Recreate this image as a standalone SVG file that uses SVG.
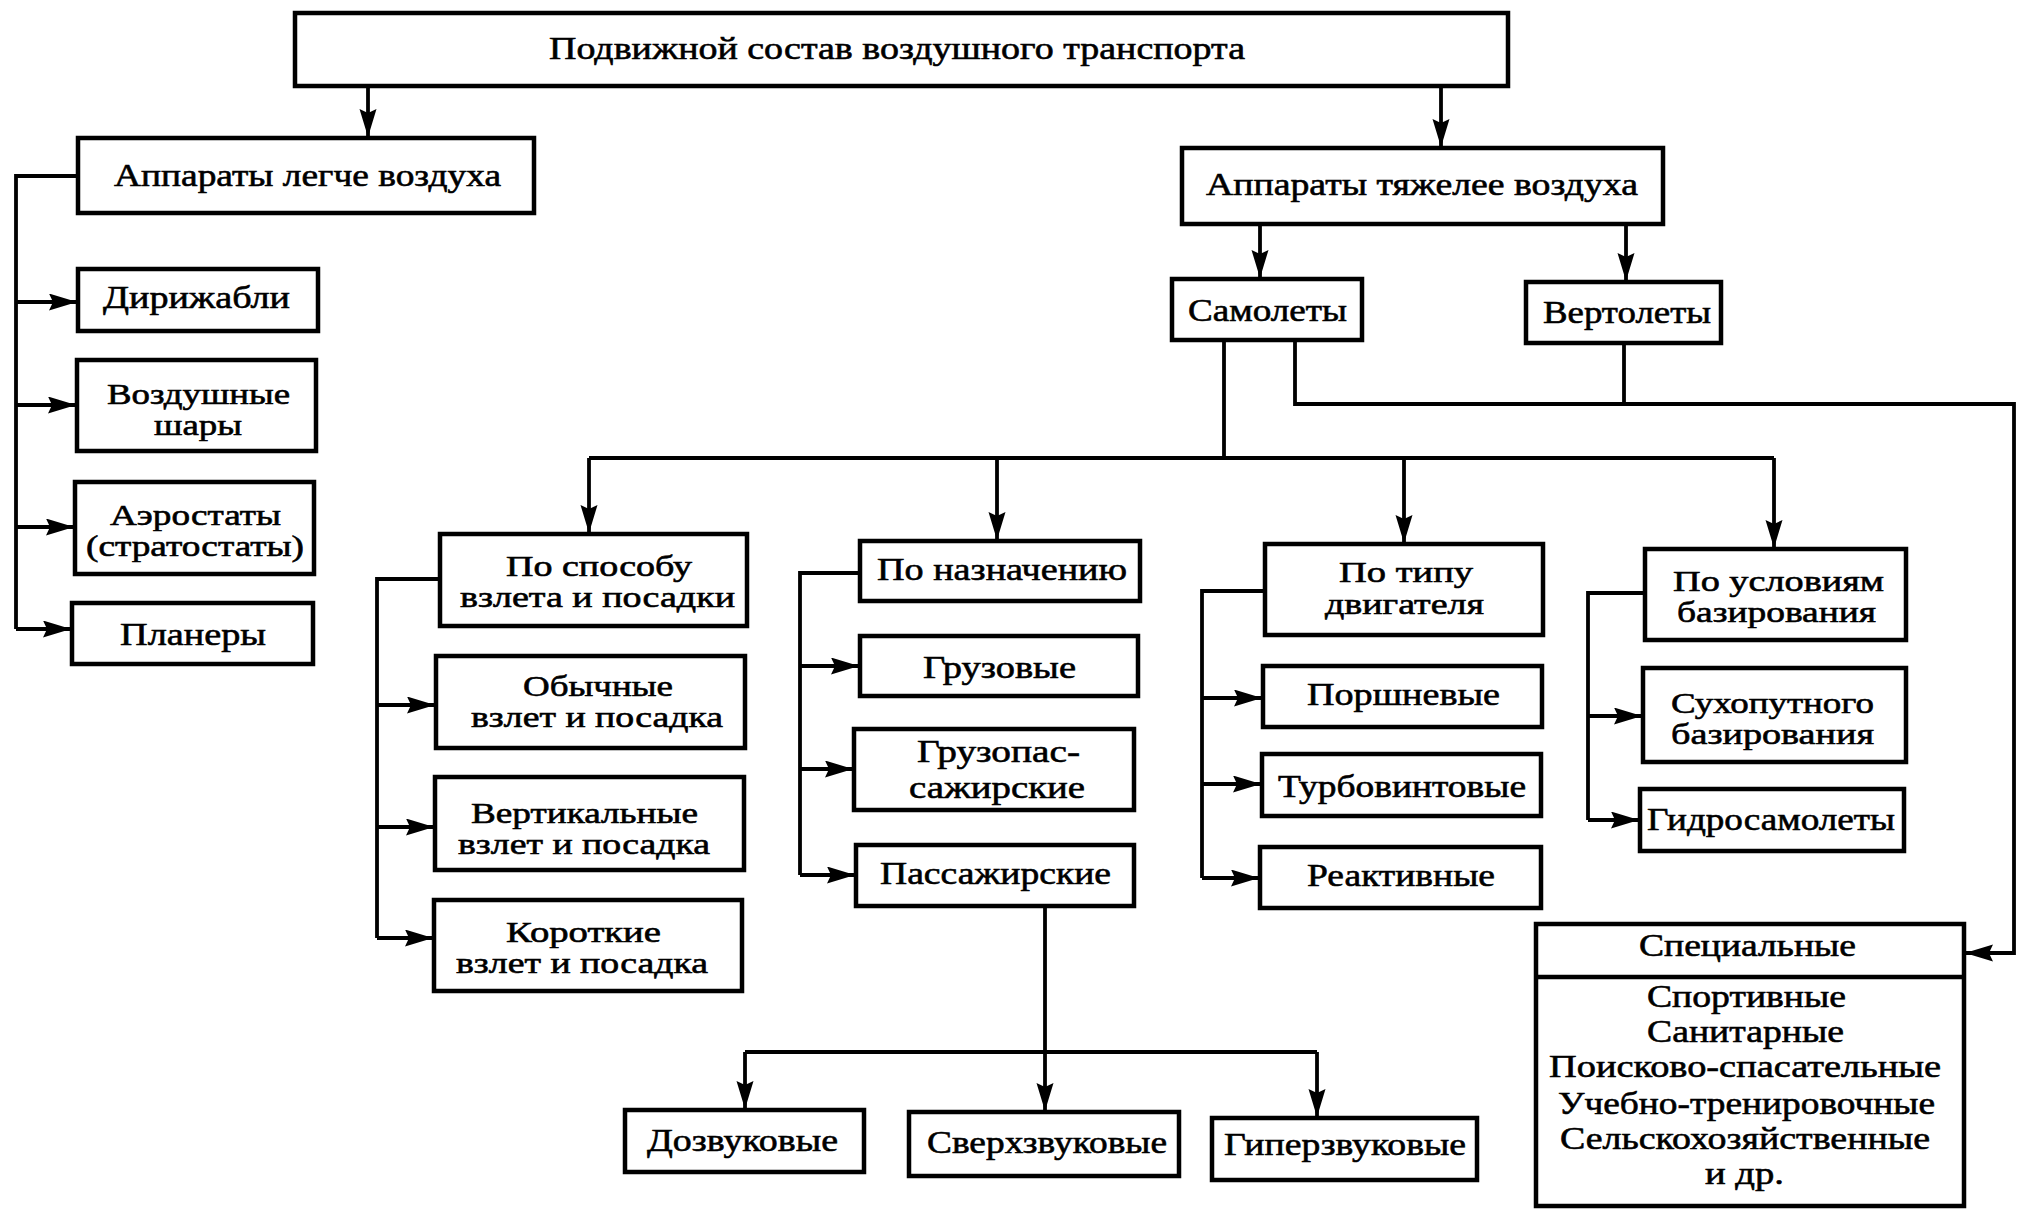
<svg xmlns="http://www.w3.org/2000/svg" width="2036" height="1221" viewBox="0 0 2036 1221">
<style>
.b{fill:#fff;stroke:#000;stroke-width:4.5}
.c{fill:none;stroke:#000;stroke-width:3.8}
text{font-family:"Liberation Serif","Times New Roman",serif;font-size:32px;fill:#000;stroke:#000;stroke-width:0.6}
text.s{font-size:30px}
</style>
<defs>
<marker id="a" markerUnits="userSpaceOnUse" markerWidth="30" markerHeight="18" refX="27" refY="8.5" orient="auto">
<path d="M0,0 L28,8.5 L0,17 L4,8.5 z" fill="#000"/>
</marker>
</defs>
<rect width="2036" height="1221" fill="#fff"/>
<g id="connectors">
<path class="c" d="M368,86 V136" marker-end="url(#a)"/>
<path class="c" d="M1441,87 V146" marker-end="url(#a)"/>
<path class="c" d="M78,176 H16 V629"/>
<path class="c" d="M16,302 H76" marker-end="url(#a)"/>
<path class="c" d="M16,405 H75" marker-end="url(#a)"/>
<path class="c" d="M16,527 H73" marker-end="url(#a)"/>
<path class="c" d="M16,629 H70" marker-end="url(#a)"/>
<path class="c" d="M1260,224 V277" marker-end="url(#a)"/>
<path class="c" d="M1626,224 V280" marker-end="url(#a)"/>
<path class="c" d="M1224,340 V458 M589,458 H1774"/>
<path class="c" d="M589,458 V532" marker-end="url(#a)"/>
<path class="c" d="M997,458 V539" marker-end="url(#a)"/>
<path class="c" d="M1404,458 V542" marker-end="url(#a)"/>
<path class="c" d="M1774,458 V547" marker-end="url(#a)"/>
<path class="c" d="M1295,340 V404 H2014 V953 H1966" marker-end="url(#a)"/>
<path class="c" d="M1624,343 V404"/>
<path class="c" d="M440,579 H377 V938"/>
<path class="c" d="M377,705 H434" marker-end="url(#a)"/>
<path class="c" d="M377,827 H433" marker-end="url(#a)"/>
<path class="c" d="M377,938 H432" marker-end="url(#a)"/>
<path class="c" d="M860,573 H800 V875"/>
<path class="c" d="M800,666 H858" marker-end="url(#a)"/>
<path class="c" d="M800,769 H852" marker-end="url(#a)"/>
<path class="c" d="M800,875 H854" marker-end="url(#a)"/>
<path class="c" d="M1265,591 H1202 V878"/>
<path class="c" d="M1202,698 H1261" marker-end="url(#a)"/>
<path class="c" d="M1202,784 H1260" marker-end="url(#a)"/>
<path class="c" d="M1202,878 H1258" marker-end="url(#a)"/>
<path class="c" d="M1645,593 H1588 V820"/>
<path class="c" d="M1588,716 H1641" marker-end="url(#a)"/>
<path class="c" d="M1588,820 H1638" marker-end="url(#a)"/>
<path class="c" d="M1045,906 V1110" marker-end="url(#a)"/>
<path class="c" d="M745,1052 H1317"/>
<path class="c" d="M745,1052 V1108" marker-end="url(#a)"/>
<path class="c" d="M1317,1052 V1116" marker-end="url(#a)"/>
</g>
<g id="root"><rect class="b" x="295" y="13" width="1213" height="73"/><text x="549" y="59" textLength="696" lengthAdjust="spacingAndGlyphs">Подвижной состав воздушного транспорта</text></g>
<g id="lighter"><rect class="b" x="78" y="138" width="456" height="75"/><text x="114" y="186" textLength="387" lengthAdjust="spacingAndGlyphs">Аппараты легче воздуха</text></g>
<g id="heavier"><rect class="b" x="1182" y="148" width="481" height="76"/><text x="1206" y="195" textLength="432" lengthAdjust="spacingAndGlyphs">Аппараты тяжелее воздуха</text></g>
<g id="airships"><rect class="b" x="78" y="269" width="240" height="62"/><text x="103" y="308" textLength="187" lengthAdjust="spacingAndGlyphs">Дирижабли</text></g>
<g id="balloons"><rect class="b" x="77" y="360" width="239" height="91"/><text class="s" x="107" y="404" textLength="183" lengthAdjust="spacingAndGlyphs">Воздушные</text><text class="s" x="154" y="435" textLength="88" lengthAdjust="spacingAndGlyphs">шары</text></g>
<g id="aerostats"><rect class="b" x="75" y="482" width="239" height="92"/><text class="s" x="110" y="525" textLength="171" lengthAdjust="spacingAndGlyphs">Аэростаты</text><text class="s" x="86" y="556" textLength="218" lengthAdjust="spacingAndGlyphs">(стратостаты)</text></g>
<g id="gliders"><rect class="b" x="72" y="603" width="241" height="61"/><text x="120" y="645" textLength="146" lengthAdjust="spacingAndGlyphs">Планеры</text></g>
<g id="planes"><rect class="b" x="1172" y="279" width="190" height="61"/><text x="1188" y="321" textLength="159" lengthAdjust="spacingAndGlyphs">Самолеты</text></g>
<g id="helicopters"><rect class="b" x="1526" y="282" width="195" height="61"/><text x="1543" y="323" textLength="168" lengthAdjust="spacingAndGlyphs">Вертолеты</text></g>
<g id="by-takeoff"><rect class="b" x="440" y="534" width="307" height="92"/><text class="s" x="506" y="576" textLength="186" lengthAdjust="spacingAndGlyphs">По способу</text><text class="s" x="460" y="607" textLength="275" lengthAdjust="spacingAndGlyphs">взлета и посадки</text></g>
<g id="by-purpose"><rect class="b" x="860" y="541" width="280" height="60"/><text x="877" y="580" textLength="250" lengthAdjust="spacingAndGlyphs">По назначению</text></g>
<g id="by-engine"><rect class="b" x="1265" y="544" width="278" height="91"/><text class="s" x="1339" y="582" textLength="134" lengthAdjust="spacingAndGlyphs">По типу</text><text class="s" x="1325" y="614" textLength="159" lengthAdjust="spacingAndGlyphs">двигателя</text></g>
<g id="by-basing"><rect class="b" x="1645" y="549" width="261" height="91"/><text class="s" x="1673" y="591" textLength="211" lengthAdjust="spacingAndGlyphs">По условиям</text><text class="s" x="1677" y="622" textLength="199" lengthAdjust="spacingAndGlyphs">базирования</text></g>
<g id="ordinary"><rect class="b" x="436" y="656" width="309" height="92"/><text class="s" x="523" y="696" textLength="150" lengthAdjust="spacingAndGlyphs">Обычные</text><text class="s" x="471" y="727" textLength="252" lengthAdjust="spacingAndGlyphs">взлет и посадка</text></g>
<g id="vertical"><rect class="b" x="435" y="777" width="309" height="93"/><text class="s" x="471" y="823" textLength="227" lengthAdjust="spacingAndGlyphs">Вертикальные</text><text class="s" x="458" y="854" textLength="252" lengthAdjust="spacingAndGlyphs">взлет и посадка</text></g>
<g id="short"><rect class="b" x="434" y="900" width="308" height="91"/><text class="s" x="506" y="942" textLength="155" lengthAdjust="spacingAndGlyphs">Короткие</text><text class="s" x="456" y="973" textLength="252" lengthAdjust="spacingAndGlyphs">взлет и посадка</text></g>
<g id="cargo"><rect class="b" x="860" y="636" width="278" height="60"/><text x="923" y="678" textLength="153" lengthAdjust="spacingAndGlyphs">Грузовые</text></g>
<g id="cargo-pass"><rect class="b" x="854" y="729" width="280" height="81"/><text x="917" y="762" textLength="163" lengthAdjust="spacingAndGlyphs">Грузопас-</text><text x="909" y="798" textLength="176" lengthAdjust="spacingAndGlyphs">сажирские</text></g>
<g id="passenger"><rect class="b" x="856" y="845" width="278" height="61"/><text x="880" y="884" textLength="231" lengthAdjust="spacingAndGlyphs">Пассажирские</text></g>
<g id="piston"><rect class="b" x="1263" y="666" width="279" height="61"/><text x="1307" y="705" textLength="193" lengthAdjust="spacingAndGlyphs">Поршневые</text></g>
<g id="turboprop"><rect class="b" x="1262" y="754" width="279" height="62"/><text x="1278" y="797" textLength="248" lengthAdjust="spacingAndGlyphs">Турбовинтовые</text></g>
<g id="jet"><rect class="b" x="1260" y="847" width="281" height="61"/><text x="1307" y="886" textLength="188" lengthAdjust="spacingAndGlyphs">Реактивные</text></g>
<g id="land"><rect class="b" x="1643" y="668" width="263" height="94"/><text class="s" x="1671" y="713" textLength="203" lengthAdjust="spacingAndGlyphs">Сухопутного</text><text class="s" x="1671" y="744" textLength="203" lengthAdjust="spacingAndGlyphs">базирования</text></g>
<g id="seaplanes"><rect class="b" x="1640" y="789" width="264" height="62"/><text x="1647" y="830" textLength="248" lengthAdjust="spacingAndGlyphs">Гидросамолеты</text></g>
<g id="subsonic"><rect class="b" x="625" y="1110" width="239" height="62"/><text x="647" y="1151" textLength="191" lengthAdjust="spacingAndGlyphs">Дозвуковые</text></g>
<g id="supersonic"><rect class="b" x="909" y="1112" width="270" height="64"/><text x="927" y="1153" textLength="240" lengthAdjust="spacingAndGlyphs">Сверхзвуковые</text></g>
<g id="hypersonic"><rect class="b" x="1212" y="1118" width="265" height="62"/><text x="1224" y="1155" textLength="242" lengthAdjust="spacingAndGlyphs">Гиперзвуковые</text></g>
<g id="special"><rect class="b" x="1536" y="924" width="428" height="282"/><path class="c" d="M1536,977 H1964" style="stroke-width:4.5"/>
<text x="1639" y="956" textLength="217" lengthAdjust="spacingAndGlyphs">Специальные</text>
<text x="1647" y="1007" textLength="199" lengthAdjust="spacingAndGlyphs">Спортивные</text>
<text x="1647" y="1042" textLength="197" lengthAdjust="spacingAndGlyphs">Санитарные</text>
<text x="1549" y="1077" textLength="392" lengthAdjust="spacingAndGlyphs">Поисково-спасательные</text>
<text x="1558" y="1114" textLength="377" lengthAdjust="spacingAndGlyphs">Учебно-тренировочные</text>
<text x="1560" y="1149" textLength="370" lengthAdjust="spacingAndGlyphs">Сельскохозяйственные</text>
<text x="1705" y="1184" textLength="79" lengthAdjust="spacingAndGlyphs">и др.</text>
</g>
</svg>
